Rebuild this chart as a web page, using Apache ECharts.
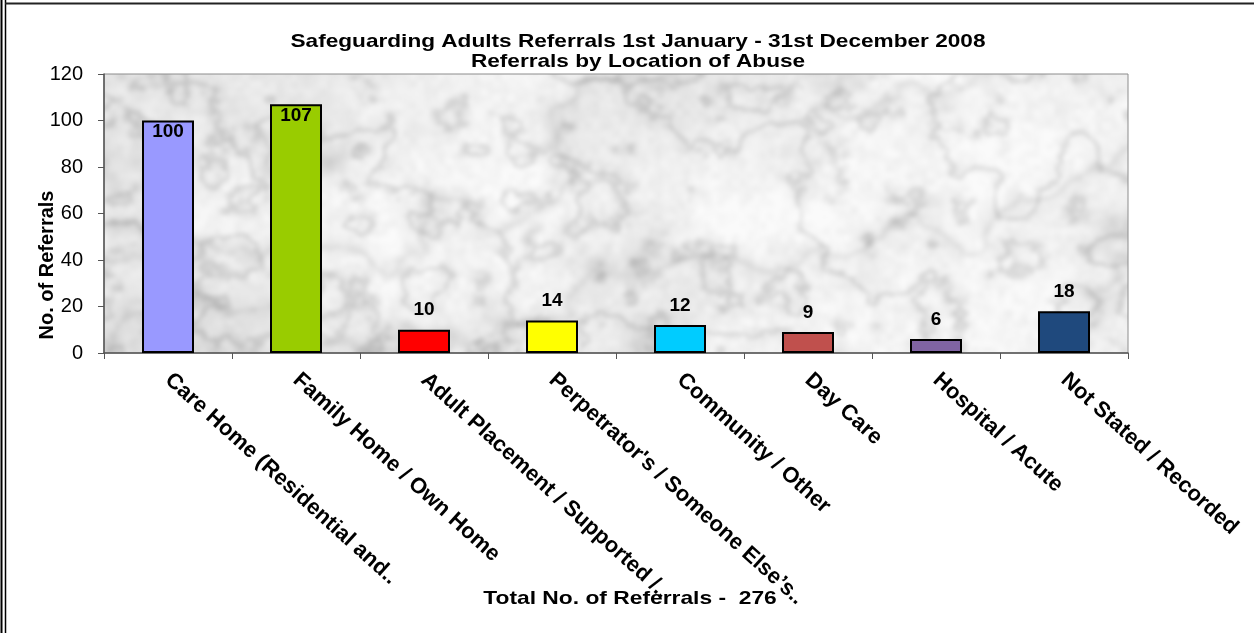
<!DOCTYPE html>
<html>
<head>
<meta charset="utf-8">
<script src="https://cdn.jsdelivr.net/npm/echarts@6/dist/echarts.min.js"></script>
<style>
  html, body { margin: 0; padding: 0; background: #fff; }
  #chart { width: 1254px; height: 633px; }
</style>
</head>
<body>
<div id="chart"></div>
<script>
// Referral counts by location of abuse, 2008
const categories = [
  'Care Home (Residential and..',
  'Family Home / Own Home',
  'Adult Placement / Supported /..',
  "Perpetrator's / Someone Else\u2019s..",
  'Community / Other',
  'Day Care',
  'Hospital / Acute',
  'Not Stated / Recorded'
];
const referrals = [100, 107, 10, 14, 12, 9, 6, 18];
const barColors = ['#9999FF', '#99CC00', '#FF0000', '#FFFF00', '#00CCFF', '#C0504D', '#8064A2', '#1F497D'];
const totalReferrals = 276;
const titleLines = [
  'Safeguarding Adults Referrals 1st January - 31st December 2008',
  'Referrals by Location of Abuse'
];

const W = 1254, H = 633;
const gridLeft = 104, gridRight = 126, gridTop = 74, gridBottom = 280;

// Grey marble texture for the plot background (deterministic value noise).
// The pattern is anchored at the canvas origin, so it is drawn page-sized.
function makeMarble(w, h, x0, y0, x1, y1) {
  const raw = document.createElement('canvas');
  raw.width = w; raw.height = h;
  const ctx = raw.getContext('2d');
  ctx.fillStyle = '#e0e0e0';
  ctx.fillRect(0, 0, w, h);
  const img = ctx.getImageData(0, 0, w, h);
  function hash(x, y) {
    let n = (x * 374761393 + y * 668265263) | 0;
    n = Math.imul(n ^ (n >>> 13), 1274126177);
    n = n ^ (n >>> 16);
    return ((n >>> 0) % 10000) / 10000;
  }
  function smooth(t) { return t * t * (3 - 2 * t); }
  function noise(x, y) {
    const xi = Math.floor(x), yi = Math.floor(y);
    const xf = x - xi, yf = y - yi;
    const a = hash(xi, yi), b = hash(xi + 1, yi), c = hash(xi, yi + 1), d = hash(xi + 1, yi + 1);
    const u = smooth(xf), v = smooth(yf);
    return a + (b - a) * u + (c - a) * v + (a - b - c + d) * u * v;
  }
  function fbm(x, y, oct) {
    let s = 0, amp = 0.5, f = 1;
    for (let o = 0; o < oct; o++) { s += amp * noise(x * f, y * f); f *= 2; amp *= 0.5; }
    return s;
  }
  for (let y = y0 - 6; y < y1 + 6; y++) {
    for (let x = x0 - 6; x < x1 + 6; x++) {
      const cloud = fbm(x / 130, y / 110, 4);
      const turb = fbm(x / 60 + 17, y / 50 + 9, 5);
      const vein = 1 - Math.abs(Math.sin(x * 0.009 - y * 0.013 + turb * 10));
      const vein2 = 1 - Math.abs(Math.sin(x * 0.006 + y * 0.02 + cloud * 8 + 3));
      const grain = fbm(x / 7 + 91, y / 7 + 41, 3);
      let g = 234
        - Math.pow(vein, 3) * 34
        - Math.pow(vein2, 4) * 22
        - (cloud - 0.5) * 46
        - (grain - 0.5) * 22;
      g = Math.max(150, Math.min(250, g));
      const i = (y * w + x) * 4;
      img.data[i] = g; img.data[i + 1] = g; img.data[i + 2] = g; img.data[i + 3] = 255;
    }
  }
  ctx.putImageData(img, 0, 0);
  const out = document.createElement('canvas');
  out.width = w; out.height = h;
  const octx = out.getContext('2d');
  octx.filter = 'blur(2px)';
  octx.drawImage(raw, 0, 0);
  return out;
}

const chart = echarts.init(document.getElementById('chart'), null, { renderer: 'canvas' });
const marble = makeMarble(W, H, gridLeft, gridTop, W - gridRight, H - gridBottom);

const sans = '"Liberation Sans", Arial, sans-serif';

// Wide bold text used for the heading and the total line
function wideText(text, x, y, size, sx) {
  return {
    type: 'text',
    x: x, y: y,
    scaleX: sx, scaleY: 1,
    style: {
      text: text,
      fill: '#000',
      font: 'bold ' + size + 'px ' + sans,
      align: 'center',
      verticalAlign: 'middle'
    }
  };
}

chart.setOption({
  animation: false,
  backgroundColor: '#ffffff',
  grid: {
    left: gridLeft, right: gridRight, top: gridTop, bottom: gridBottom,
    show: true,
    borderColor: '#8c8c8c',
    borderWidth: 1,
    backgroundColor: { image: marble, repeat: 'no-repeat' }
  },
  xAxis: {
    type: 'category',
    data: categories,
    axisLine: { lineStyle: { color: '#555', width: 1.5 } },
    axisTick: { show: true, length: 6, lineStyle: { color: '#555' } },
    axisLabel: {
      interval: 0,
      rotate: -42,
      margin: 24,
      color: '#000',
      fontFamily: sans,
      fontWeight: 'bold',
      fontSize: 22
    }
  },
  yAxis: {
    type: 'value',
    min: 0, max: 120, interval: 20,
    axisLine: { show: true, lineStyle: { color: '#555', width: 1.5 } },
    axisTick: { show: true, length: 6, lineStyle: { color: '#555' } },
    splitLine: { show: false },
    axisLabel: {
      margin: 21,
      color: '#000',
      fontFamily: sans,
      fontSize: 20
    }
  },
  series: [{
    type: 'bar',
    barWidth: 52,
    data: referrals.map((v, i) => ({
      value: v,
      itemStyle: { color: barColors[i] },
      label: v > 50 ? { position: 'insideTop', distance: 2 } : { position: 'top', distance: 10 }
    })),
    itemStyle: { borderColor: '#000', borderWidth: 2 },
    label: {
      show: true,
      color: '#000',
      fontFamily: sans,
      fontWeight: 'bold',
      fontSize: 19
    }
  }],
  graphic: [
    { type: 'line', shape: { x1: 1.5, y1: 0, x2: 1.5, y2: H }, style: { stroke: '#000', lineWidth: 2 } },
    { type: 'line', shape: { x1: 5.5, y1: 0, x2: 5.5, y2: H }, style: { stroke: '#000', lineWidth: 1.5 } },
    { type: 'line', shape: { x1: 5, y1: 3.5, x2: W, y2: 3.5 }, style: { stroke: '#222', lineWidth: 2 } },
    wideText(titleLines[0], 638, 42, 19, 1.19),
    wideText(titleLines[1], 638, 62, 19, 1.19),
    {
      type: 'text',
      x: 47, y: 265,
      rotation: Math.PI / 2,
      style: {
        text: 'No. of Referrals',
        fill: '#000',
        font: 'bold 20px ' + sans,
        align: 'center',
        verticalAlign: 'middle'
      }
    },
    wideText('Total No. of Referrals -  ' + totalReferrals, 630, 599, 19, 1.2)
  ]
});
</script>
</body>
</html>
